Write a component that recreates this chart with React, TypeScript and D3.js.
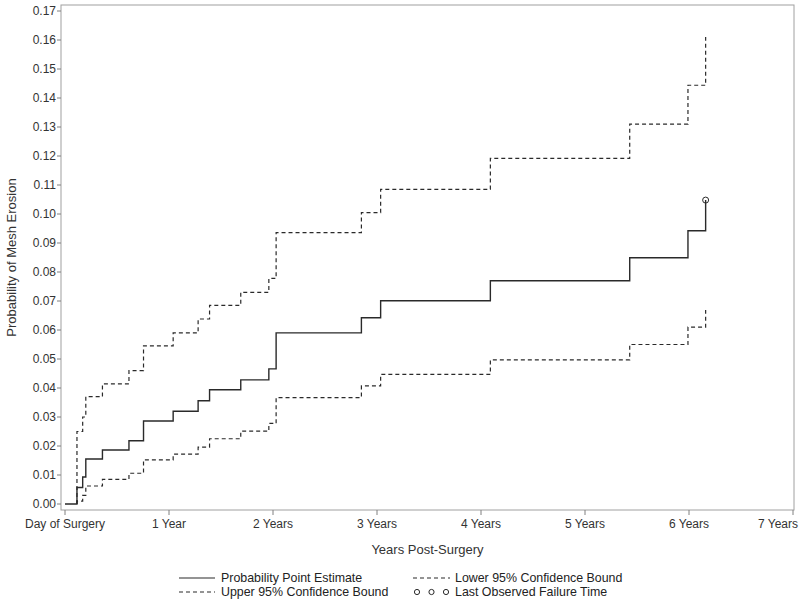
import React from "react";
import * as d3 from "d3";

// Event times (years post-surgery)
const eventTimes = [0.115, 0.17, 0.2, 0.36, 0.615, 0.755, 1.04, 1.28, 1.39, 1.69, 1.96, 2.03, 2.85, 3.035, 4.09, 5.43, 5.99, 6.16];
// Probability point estimate after each event
const pointEstimate = [0.0057, 0.0093, 0.0155, 0.0186, 0.0218, 0.0286, 0.032, 0.0356, 0.0394, 0.0428, 0.0466, 0.059, 0.0642, 0.0701, 0.077, 0.0849, 0.0942, 0.1048];
// Upper 95% confidence bound
const upperBound = [0.025, 0.030, 0.037, 0.0414, 0.046, 0.0545, 0.059, 0.0638, 0.0685, 0.073, 0.0778, 0.0936, 0.1005, 0.1085, 0.1192, 0.131, 0.1444, 0.161];
// Lower 95% confidence bound
const lowerBound = [0.001, 0.003, 0.0062, 0.0085, 0.0106, 0.0152, 0.0172, 0.0196, 0.0225, 0.0251, 0.0278, 0.0367, 0.0407, 0.0447, 0.0497, 0.055, 0.061, 0.0669];

const xTickValues = [0, 1, 2, 3, 4, 5, 6, 7];
const xTickLabels = ["Day of Surgery", "1 Year", "2 Years", "3 Years", "4 Years", "5 Years", "6 Years", "7 Years"];
const yTickValues = d3.range(0, 18).map((i) => i / 100);

const FONT = "'Liberation Sans', Arial, Helvetica, sans-serif";

export default function App() {
  const W = 800, H = 603;
  const frame = { left: 61, right: 794, top: 5, bottom: 510 };
  const x = d3.scaleLinear().domain([0, 7]).range([65, 793]);
  const y = d3.scaleLinear().domain([0, 0.17]).range([504, 11]);

  type P = { t: number; v: number };
  const line = d3.line<P>().x((d) => x(d.t)).y((d) => y(d.v)).curve(d3.curveStepAfter);

  const solidPts: P[] = [{ t: 0, v: 0 }, ...eventTimes.map((t, i) => ({ t, v: pointEstimate[i] }))];
  const upperPts: P[] = [{ t: eventTimes[0], v: 0 }, ...eventTimes.map((t, i) => ({ t, v: upperBound[i] }))];
  const lowerPts: P[] = [{ t: eventTimes[0], v: 0 }, ...eventTimes.map((t, i) => ({ t, v: lowerBound[i] }))];

  const lastT = eventTimes[eventTimes.length - 1];
  const lastV = pointEstimate[pointEstimate.length - 1];

  const lineColor = "#2a2a2a";
  const dash = "4,3";

  return (
    <svg width={W} height={H} style={{ position: "absolute", left: 0, top: 0 }} fontFamily={FONT}>
      <rect x={0} y={0} width={W} height={H} fill="#fff" />
      <rect x={frame.left} y={frame.top} width={frame.right - frame.left} height={frame.bottom - frame.top} fill="none" stroke="#a0a0a0" strokeWidth={1} />
      {/* Y axis ticks */}
      {yTickValues.map((v) => (
        <g key={"y" + v}>
          <line x1={frame.left - 4} x2={frame.left} y1={y(v)} y2={y(v)} stroke="#808080" />
          <text x={frame.left - 5} y={y(v)} dy="0.35em" textAnchor="end" fontSize={12} fill="#333">
            {v.toFixed(2)}
          </text>
        </g>
      ))}
      {/* X axis ticks */}
      {xTickValues.map((t, i) => (
        <g key={"x" + t}>
          <line x1={x(t)} x2={x(t)} y1={frame.bottom} y2={frame.bottom + 5} stroke="#808080" />
          <text x={i === xTickValues.length - 1 ? Math.min(x(t), 778) : x(t)} y={frame.bottom + 18} textAnchor="middle" fontSize={12} fill="#333">
            {xTickLabels[i]}
          </text>
        </g>
      ))}
      <text x={(frame.left + frame.right) / 2} y={554} textAnchor="middle" fontSize={13} fill="#333">
        Years Post-Surgery
      </text>
      <text transform={`translate(16, ${(y(0) + y(0.17)) / 2}) rotate(-90)`} textAnchor="middle" fontSize={13} fill="#333">
        Probability of Mesh Erosion
      </text>

      {/* Series */}
      <path d={line(upperPts) || ""} fill="none" stroke={lineColor} strokeWidth={1.2} strokeDasharray={dash} />
      <path d={line(lowerPts) || ""} fill="none" stroke={lineColor} strokeWidth={1.2} strokeDasharray={dash} />
      <path d={line(solidPts) || ""} fill="none" stroke={lineColor} strokeWidth={1.4} />
      <circle cx={x(lastT)} cy={y(lastV)} r={3} fill="none" stroke={lineColor} strokeWidth={1} />

      {/* Legend */}
      <g fontSize={12.4} fill="#222">
        <line x1={179} x2={215} y1={578} y2={578} stroke={lineColor} strokeWidth={1.2} />
        <text x={221} y={578} dy="0.35em">Probability Point Estimate</text>
        <line x1={413} x2={450} y1={578} y2={578} stroke={lineColor} strokeWidth={1.2} strokeDasharray={dash} />
        <text x={455} y={578} dy="0.35em">Lower 95% Confidence Bound</text>
        <line x1={179} x2={215} y1={592} y2={592} stroke={lineColor} strokeWidth={1.2} strokeDasharray={dash} />
        <text x={221} y={592} dy="0.35em">Upper 95% Confidence Bound</text>
        {[417, 431.5, 446].map((cx) => (
          <circle key={cx} cx={cx} cy={592} r={2.6} fill="none" stroke={lineColor} strokeWidth={1} />
        ))}
        <text x={455} y={592} dy="0.35em">Last Observed Failure Time</text>
      </g>
    </svg>
  );
}
